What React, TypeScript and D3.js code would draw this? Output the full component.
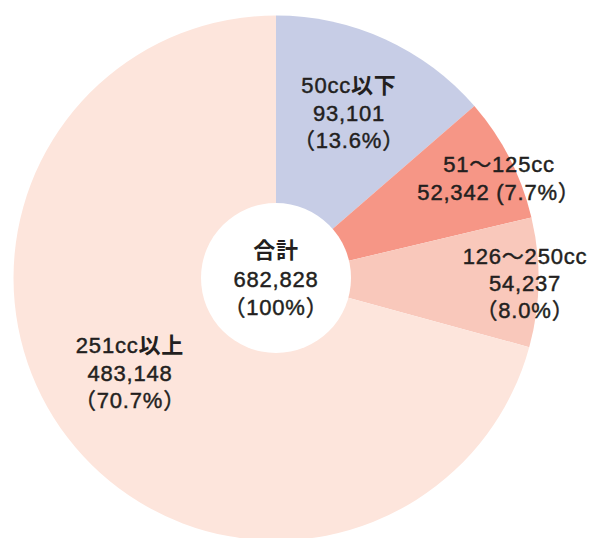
import React from "react";
import * as d3 from "d3";

const categories = ["50cc以下", "51〜125cc", "126〜250cc", "251cc以上"];
const values = [93101, 52342, 54237, 483148];
const valueLabels = ["93,101", "52,342", "54,237", "483,148"];
const percentLabels = ["（13.6%）", "（7.7%）", "（8.0%）", "（70.7%）"];
const colors = ["#c7cde6", "#f69686", "#f9c8bb", "#fde5dc"];
const totalLabel = "合計";
const totalValue = "682,828";
const totalPercent = "（100%）";

const W = 595;
const H = 538;
const cx = 276;
const cy = 278;
const R = 262.5;
const r0 = 75;

const FONT = "'Liberation Sans', Arial, 'Noto Sans CJK JP', sans-serif";
const TXT = "#231f20";

type Lbl = { x: number; lines: string[]; baselines: number[] };

// label anchor positions (layout only)
const labelLayout: Lbl[] = [
  { x: 349, lines: [categories[0], valueLabels[0], percentLabels[0]], baselines: [93, 120.5, 148] },
  { x: 499, lines: [categories[1], valueLabels[1] + percentLabels[1]], baselines: [172, 199.5] },
  { x: 525, lines: [categories[2], valueLabels[2], percentLabels[2]], baselines: [264, 291, 318] },
  { x: 130, lines: [categories[3], valueLabels[3], percentLabels[3]], baselines: [353, 380.5, 408] },
];

function Line({ x, y, text }: { x: number; y: number; text: string }) {
  const parts: { t: string; cjk: boolean }[] = [];
  let idx = 0;
  for (const raw of text) {
    // an opening bracket inside a line is drawn narrow, as in the reference
    const ch = raw === "（" && idx > 0 ? " (" : raw;
    const cjk = /[\u3000-\u9fff\uff00-\uffef]/.test(ch) && !/[（）〜]/.test(ch);
    const last = parts[parts.length - 1];
    if (last && last.cjk === cjk) last.t += ch;
    else parts.push({ t: ch, cjk });
    idx++;
  }
  return (
    <text
      x={x}
      y={y}
      textAnchor="middle"
      fontFamily={FONT}
      fontSize={22}
      letterSpacing={0.8}
      fill={TXT}
      stroke={TXT}
      strokeWidth={0.45}
      style={{ whiteSpace: "pre" }}
    >
      {parts.map((p, i) =>
        p.cjk ? (
          <tspan key={i} fontFamily="'Noto Sans CJK JP', sans-serif" fontWeight={700} strokeWidth={0}>
            {p.t}
          </tspan>
        ) : (
          <tspan key={i}>{p.t}</tspan>
        )
      )}
    </text>
  );
}

export default function App() {
  const pie = d3
    .pie<number>()
    .sort(null)
    .value((d) => d)
    .startAngle(0)
    .endAngle(2 * Math.PI);
  const arcs = pie(values);
  const arcGen = d3.arc<d3.PieArcDatum<number>>().innerRadius(0).outerRadius(R);

  return (
    <svg
      width={W}
      height={H}
      style={{ position: "absolute", left: 0, top: 0, background: "#fff" }}
    >
      <g transform={`translate(${cx},${cy})`}>
        {arcs.map((a, i) => (
          <path key={i} d={arcGen(a) || ""} fill={colors[i]} />
        ))}
        <circle r={r0} fill="#fff" />
      </g>
      {labelLayout.map((l, i) =>
        l.lines.map((t, j) => <Line key={`${i}-${j}`} x={l.x} y={l.baselines[j]} text={t} />)
      )}
      <Line x={276} y={258} text={totalLabel} />
      <Line x={276} y={287} text={totalValue} />
      <Line x={276} y={315} text={totalPercent} />
    </svg>
  );
}
